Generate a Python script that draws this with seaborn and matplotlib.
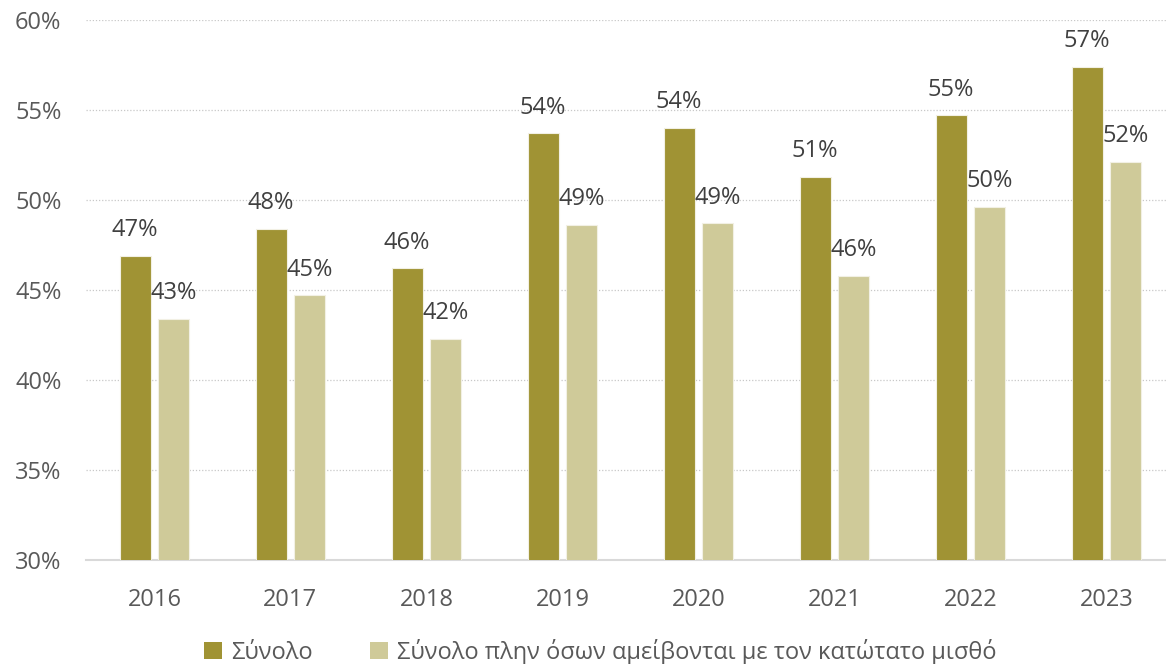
import matplotlib
matplotlib.use("Agg")
import matplotlib.pyplot as plt
import matplotlib.ticker as mticker
from matplotlib.patches import Patch
import pandas as pd
import seaborn as sns

years = ["2016", "2017", "2018", "2019", "2020", "2021", "2022", "2023"]
total = [46.9, 48.4, 46.2, 53.7, 54.0, 51.3, 54.7, 57.4]
total_excl_min_wage = [43.4, 44.7, 42.3, 48.6, 48.7, 45.8, 49.6, 52.1]
series_names = ["Σύνολο", "Σύνολο πλην όσων αμείβονται με τον κατώτατο μισθό"]
y_ticks = [30, 35, 40, 45, 50, 55, 60]

dark = "#A09334"
light = "#CFCA99"
text_gray = "#595959"
label_gray = "#404040"

df = pd.DataFrame({
    "year": years * 2,
    "value": total + total_excl_min_wage,
    "series": [series_names[0]] * len(years) + [series_names[1]] * len(years),
})

sns.set_theme(style="white")
plt.rcParams["font.family"] = ["Open Sans", "DejaVu Sans"]

fig = plt.figure(figsize=(11.66, 6.64), dpi=100)
ax = fig.add_axes([86.4 / 1166, 104 / 664, 1088 / 1166, 540 / 664])

sns.barplot(
    data=df, x="year", y="value", hue="series", order=years,
    hue_order=series_names, palette=[dark, light], saturation=1,
    width=0.566, gap=0.19, edgecolor="#F2F0E4", linewidth=0.8,
    legend=False, ax=ax, zorder=3,
)

ax.set_xlim(-0.5, len(years) - 0.5)
ax.set_ylim(y_ticks[0], y_ticks[-1])
ax.set_yticks(y_ticks)
ax.yaxis.set_major_formatter(mticker.FuncFormatter(lambda v, _: f"{v:.0f}%"))
ax.set_xlabel("")
ax.set_ylabel("")

ax.grid(axis="y", color="#C8C8C8", linestyle=(0, (1, 1.5)), linewidth=0.9, zorder=0)
ax.grid(axis="x", visible=False)
for side in ["top", "right", "left"]:
    ax.spines[side].set_visible(False)
ax.spines["bottom"].set_color("#D9D9D9")
ax.spines["bottom"].set_linewidth(1.5)

ax.tick_params(axis="both", length=0, labelsize=17, colors=text_gray)
ax.tick_params(axis="y", pad=18)
ax.tick_params(axis="x", pad=20)

for container in ax.containers:
    ax.bar_label(container, labels=[f"{v:.0f}%" for v in container.datavalues],
                 padding=10, fontsize=17, color=label_gray)

handles = [Patch(facecolor=dark, edgecolor="none"),
           Patch(facecolor=light, edgecolor="none")]
fig.legend(handles, series_names, loc="center", bbox_to_anchor=(0.515, 0.018),
           ncol=2, frameon=False, fontsize=17, labelcolor=text_gray,
           handlelength=0.75, handleheight=0.75, handletextpad=0.4,
           columnspacing=2.4)

fig.savefig("out.png", dpi=100)
